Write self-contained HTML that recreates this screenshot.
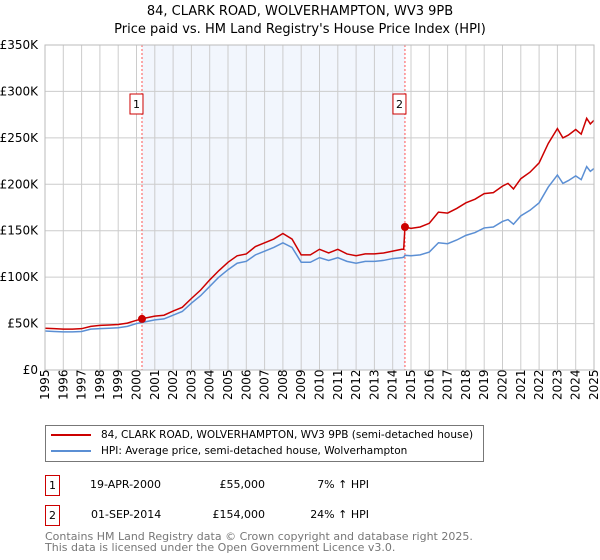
<!DOCTYPE html>
<html><head><meta charset="utf-8"><style>
body{margin:0;width:600px;height:560px;background:#fff;font-family:"DejaVu Sans","Liberation Sans",sans-serif;overflow:hidden;position:relative}
.t{position:absolute;white-space:nowrap;color:#000}
</style></head><body>
<div class="t" style="left:0;width:600px;text-align:center;top:3px;font-size:13px;line-height:18px">84, CLARK ROAD, WOLVERHAMPTON, WV3 9PB<br>Price paid vs. HM Land Registry's House Price Index (HPI)</div>
<svg id="c" width="600" height="410" style="position:absolute;left:0;top:0" font-family="DejaVu Sans, Liberation Sans, sans-serif" font-size="12"></svg>
<div style="position:absolute;left:45px;top:425px;width:437px;height:35px;border:1px solid #777;font-size:10.5px;white-space:nowrap">
<div style="position:absolute;left:5px;top:3px;white-space:nowrap"><span style="display:inline-block;width:40px;height:2px;background:#c00;vertical-align:middle;margin-right:10px"></span>84, CLARK ROAD, WOLVERHAMPTON, WV3 9PB (semi-detached house)</div>
<div style="position:absolute;left:5px;top:19px;white-space:nowrap"><span style="display:inline-block;width:40px;height:2px;background:#5b8fd4;vertical-align:middle;margin-right:10px"></span>HPI: Average price, semi-detached house, Wolverhampton</div>
</div>
<div style="font-size:11px">
<div class="t" style="left:45px;top:475px;width:13px;height:19px;border:1px solid #c00;text-align:center;line-height:19px">1</div>
<div class="t" style="left:90px;top:478px">19-APR-2000</div>
<div class="t" style="left:180px;width:85px;text-align:right;top:478px">£55,000</div>
<div class="t" style="left:280px;width:89px;text-align:right;top:478px">7% ↑ HPI</div>
</div>
<div style="font-size:11px">
<div class="t" style="left:45px;top:505px;width:13px;height:19px;border:1px solid #c00;text-align:center;line-height:19px">2</div>
<div class="t" style="left:91px;top:508px">01-SEP-2014</div>
<div class="t" style="left:180px;width:85px;text-align:right;top:508px">£154,000</div>
<div class="t" style="left:280px;width:89px;text-align:right;top:508px">24% ↑ HPI</div>
</div>
<div class="t" style="left:45px;top:531px;font-size:11px;line-height:11px;color:#777">Contains HM Land Registry data © Crown copyright and database right 2025.<br>This data is licensed under the Open Government Licence v3.0.</div>
<script>
const years=[1995,1995.5,1996,1996.5,1997,1997.5,1998,1998.5,1999,1999.5,2000,2000.5,2001,2001.5,2002,2002.5,2003,2003.5,2004,2004.5,2005,2005.5,2006,2006.5,2007,2007.5,2008,2008.5,2009,2009.5,2010,2010.5,2011,2011.5,2012,2012.5,2013,2013.5,2014,2014.5,2014.6,2014.67,2015,2015.5,2016,2016.5,2017,2017.5,2018,2018.5,2019,2019.5,2020,2020.3,2020.6,2021,2021.5,2022,2022.5,2023,2023.3,2023.6,2024,2024.3,2024.6,2024.8,2025];
const hpi=[42,41.5,41,41,41.5,44,44.5,45,45.5,47,50,52,54,55,59,63,72,80,90,100,108,115,117,124,128,132,137,132,116,116,121,118,121,117,115,117,117,118,120,121,121.5,123.5,123,124,127,137,136,140,145,148,153,154,160,162,157,166,172,180,197,210,201,204,209,205,219,214,217];
const price=[45,44.5,44,44,44.5,47,48,48.5,49,50.5,53.5,56,58,59,63.5,67.5,77,86,97,107,116,123,125,133,137,141,147,141,124,124,130,126,130,125,123,125,125,126,128,130,130,154,152.5,154,158,170,169,174,180,184,190,191,198,201,195,206,213,223,244,260,250,253,259,254,271,265,269];
const saleYears=[2000.3,2014.67];
const salePrices=[55,154];
const yTicks=[0,50,100,150,200,250,300,350];
const yLabels=["£0","£50K","£100K","£150K","£200K","£250K","£300K","£350K"];
const NS="http://www.w3.org/2000/svg",svg=document.getElementById('c');
const X=y=>45+(y-1995)*(549/30), Y=v=>370-v*(325/350);
function mk(t,a,p){const e=document.createElementNS(NS,t);for(const k in a)e.setAttribute(k,a[k]);(p||svg).appendChild(e);return e;}
const sh=mk('rect',{x:X(saleYears[0]),y:45,width:X(saleYears[1])-X(saleYears[0]),height:325,fill:'#f2f6fd'});


for(let yr=1995;yr<=2025;yr++){
 const l=mk('line',{x1:X(yr),x2:X(yr),y1:45,y2:370,stroke:'#ccc','stroke-width':1});
 
 
 const t=mk('text',{x:0,y:0,transform:`translate(${X(yr)+4},400) rotate(-90)`,'font-size':12});
 t.textContent=yr;
 
 
}
yTicks.forEach((v,i)=>{
 const l=mk('line',{x1:45,x2:594,y1:Y(v),y2:Y(v),stroke:'#ccc','stroke-width':1});
 
 
 const t=mk('text',{x:38,y:Y(v)+4,'text-anchor':'end','font-size':12});
 t.textContent=yLabels[i];
 
 
});
saleYears.forEach((s,i)=>{
 const l=mk('line',{x1:X(s),x2:X(s),y1:45,y2:370,stroke:'#f55','stroke-width':1,'stroke-dasharray':'2,2'});
 
 
 const r=mk('rect',{x:X(s)-12,y:94,width:13,height:20,fill:'#fff',stroke:'#c00'});
 
 
 const t=mk('text',{x:X(s)-5.5,y:108,'text-anchor':'middle','font-size':11});
 t.textContent=i+1;
 
 
});
const hp=mk('polyline',{points:years.map((y,i)=>X(y)+','+Y(hpi[i])).join(' '),fill:'none',stroke:'#5b8fd4','stroke-width':1.5});


const pp=mk('polyline',{points:years.map((y,i)=>X(y)+','+Y(price[i])).join(' '),fill:'none',stroke:'#c00','stroke-width':1.5});


saleYears.forEach((s,i)=>{
 const c=mk('circle',{cx:X(s),cy:Y(salePrices[i]),r:4,fill:'#c00'});
 
 
});
const ax=mk('rect',{x:45,y:45,width:549,height:325,fill:'none',stroke:'#bbb'});


</script>
</body></html>
